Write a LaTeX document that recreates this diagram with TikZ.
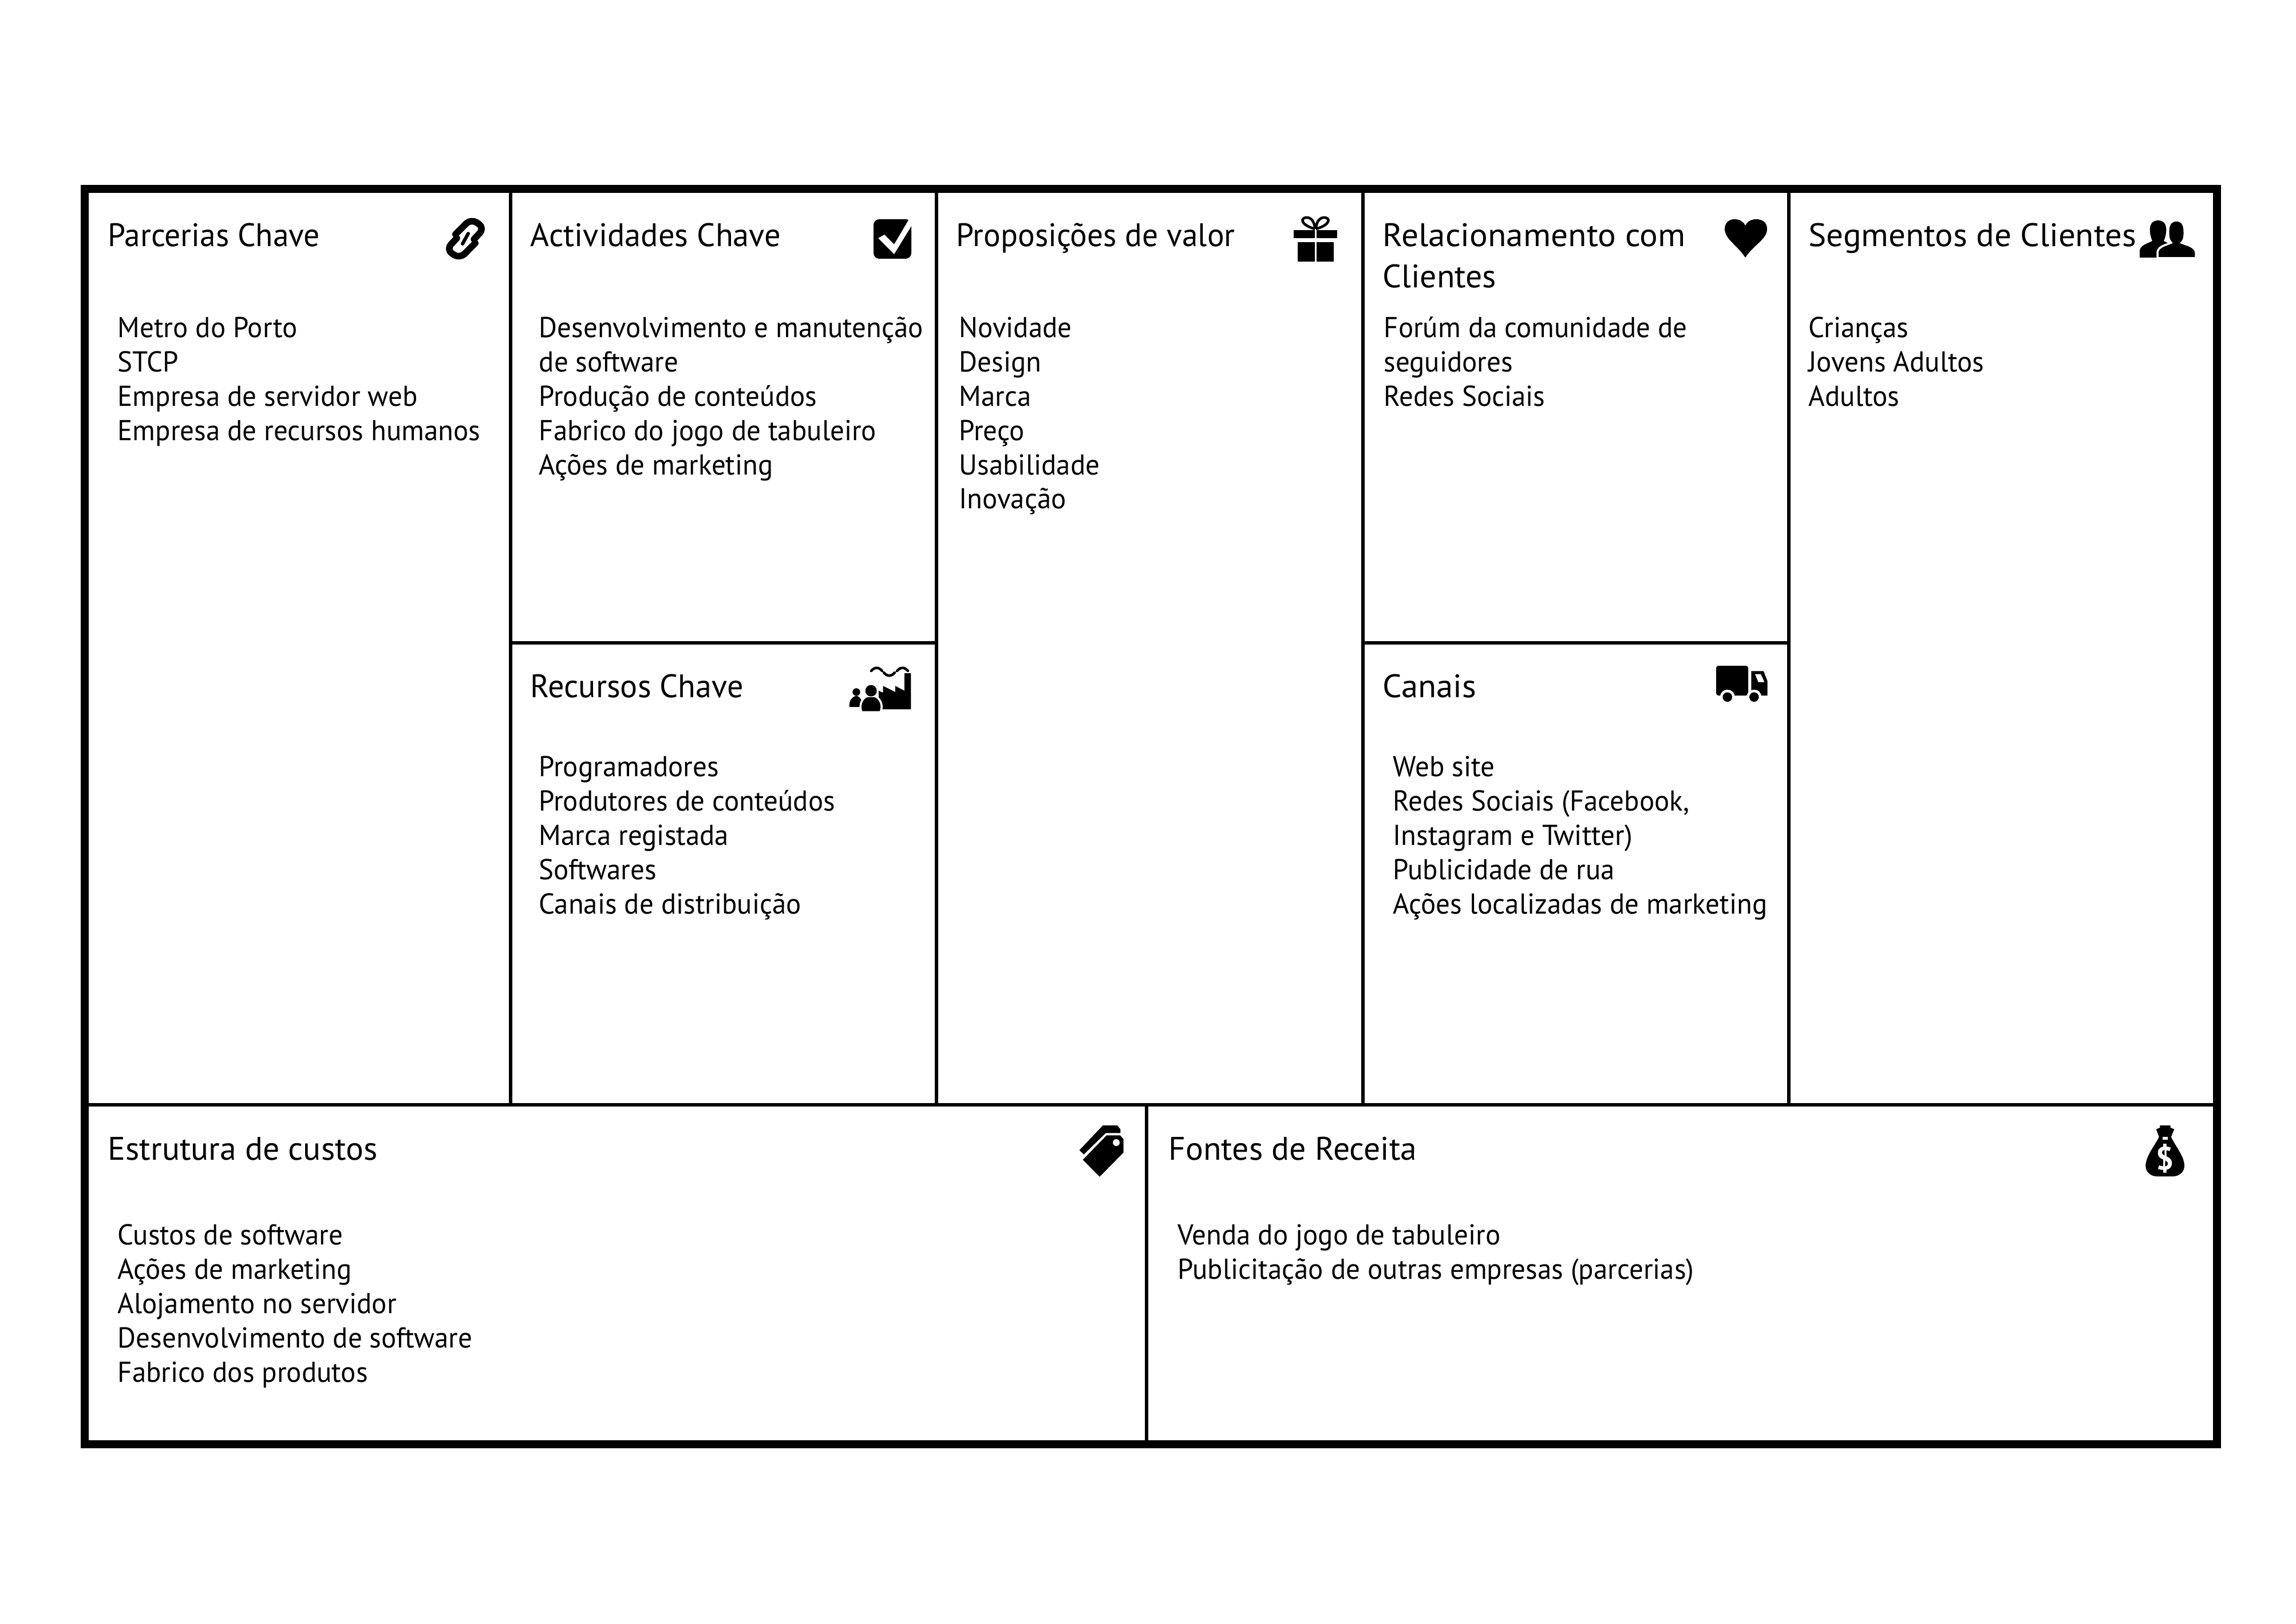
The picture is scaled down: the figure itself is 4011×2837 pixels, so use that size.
\documentclass[tikz,border=0pt]{standalone}
\usepackage{fontspec}
\setmainfont[FakeStretch=0.973]{PT Sans}
\newcommand{\fl}{\rule{0pt}{12pt}}
\newcommand{\widen}[2]{\scalebox{#1}[1]{#2}}
\tikzset{
  frame/.style={line width=0.145cm,draw=black,line join=miter},
  wall/.style={line width=0.068cm,draw=black,line cap=butt},
  titletext/.style={anchor=north west,inner sep=0pt,align=left,font=\fontsize{16.2}{20.4}\selectfont},
  bodytext/.style={anchor=north west,inner sep=0pt,align=left,font=\fontsize{14.3}{17}\selectfont},
  ink/.style={fill=black,draw=none},
  paper/.style={fill=white,draw=none},
  halo/.style={fill=black,draw=white,line width=0.035cm},
  chain/.style={draw=black,line width=0.115cm,rounded corners=0.12cm,line cap=round,line join=round},
  smoke/.style={draw=black,line width=0.045cm,line cap=round}
}
\begin{document}
\begin{tikzpicture}[x=0.01cm,y=-0.01cm]
\useasboundingbox (0,0) rectangle (4011,2837);
\fill[white] (0,0) rectangle (4011,2837);
% grid
\draw[wall] (892,330) -- (892,1930);
\draw[wall] (1636,330) -- (1636,1930);
\draw[wall] (2381,330) -- (2381,1930);
\draw[wall] (3125,330) -- (3125,1930);
\draw[wall] (892,1123) -- (1636,1123);
\draw[wall] (2381,1123) -- (3125,1123);
\draw[wall] (148,1930) -- (3873,1930);
\draw[wall] (2003,1930) -- (2003,2523);
\draw[frame] (148,330) rectangle (3873,2523);
% titles
\node[titletext] (t1) at (188,388) {\fl Parcerias Chave};
\node[titletext] (t2) at (926,388) {\fl \widen{1.02}{Actividades Chave}};
\node[titletext] (t3) at (1670,388) {\fl Proposições de valor};
\node[titletext] (t4) at (2415,388) {\fl \widen{1.07}{Relacionamento com}\\\widen{1.04}{Clientes}};
\node[titletext] (t5) at (3159,388) {\fl \widen{1.06}{Segmentos de Clientes}};
\node[titletext] (t6) at (926,1176) {\fl \widen{1.015}{Recursos Chave}};
\node[titletext] (t7) at (2415,1176) {\fl \widen{1.06}{Canais}};
\node[titletext] (t8) at (188,1984) {\fl \widen{1.04}{Estrutura de custos}};
\node[titletext] (t9) at (2041,1984) {\fl \widen{1.04}{Fontes de Receita}};
% bodies
\node[bodytext] (b1) at (205,547) {\fl Metro do Porto\\STCP\\Empresa de servidor web\\Empresa de recursos humanos};
\node[bodytext] (b2) at (941,547) {\fl Desenvolvimento e manutenção\\de software\\Produção de conteúdos\\Fabrico do jogo de tabuleiro\\Ações de marketing};
\node[bodytext] (b3) at (1675,547) {\fl Novidade\\Design\\Marca\\Preço\\Usabilidade\\Inovação};
\node[bodytext] (b4) at (2417,547) {\fl Forúm da comunidade de\\seguidores\\Redes Sociais};
\node[bodytext] (b5) at (3159,547) {\fl Crianças\\Jovens Adultos\\Adultos};
\node[bodytext] (b6) at (941,1314) {\fl Programadores\\Produtores de conteúdos\\Marca registada\\Softwares\\Canais de distribuição};
\node[bodytext] (b7) at (2433,1314) {\fl Web site\\Redes Sociais (Facebook,\\Instagram e Twitter)\\Publicidade de rua\\Ações localizadas de marketing};
\node[bodytext] (b8) at (205,2132) {\fl Custos de software\\Ações de marketing\\Alojamento no servidor\\Desenvolvimento de software\\Fabrico dos produtos};
\node[bodytext] (b9) at (2057,2132) {\fl Venda do jogo de tabuleiro\\Publicitação de outras empresas (parcerias)};
% link icon
\draw[chain] (795.8,409.2) -- (822.8,382) -- (846.5,398.1) -- (828,418);
\draw[chain] (830.2,424.8) -- (803.2,452) -- (779.5,435.9) -- (798,416);
\draw[draw=black,line width=0.06cm,line cap=round] (808,426) -- (818,408);
% check icon
\fill[ink,rounded corners=0.1cm] (1526,383) rectangle (1592,452);
\fill[paper] (1534,416) -- (1545,410) -- (1562,427) -- (1588,383) -- (1592,383) -- (1592,395) -- (1562,444) -- cycle;
% gift icon
\fill[ink] (2260,402) rectangle (2296.5,416);
\fill[ink] (2299.5,402) rectangle (2336,416);
\fill[ink] (2267,423) rectangle (2296.5,457);
\fill[ink] (2299.5,423) rectangle (2330,457);
\draw[draw=black,line width=0.045cm] (2297,400) .. controls (2270,392) and (2272,380) .. (2283,380) .. controls (2292,380) and (2297,390) .. (2297,400);
\draw[draw=black,line width=0.045cm] (2299,400) .. controls (2326,392) and (2324,380) .. (2313,380) .. controls (2304,380) and (2299,390) .. (2299,400);
% heart icon
\fill[ink] (3049,450) .. controls (3035,428) and (3013,418) .. (3013,400) .. controls (3013,388) and (3022,383) .. (3030,383) .. controls (3040,383) and (3046,388) .. (3049,394) .. controls (3052,388) and (3058,383) .. (3068,383) .. controls (3078,383) and (3087,388) .. (3087,400) .. controls (3087,418) and (3063,428) .. (3049,450) -- cycle;
% people icon
\fill[ink] (3738,450) -- (3738,437) .. controls (3740,428) and (3752,425) .. (3760,421) .. controls (3757,414) and (3755,405) .. (3756,398) .. controls (3757,388) and (3764,385) .. (3770,385) .. controls (3776,385) and (3783,388) .. (3784,398) .. controls (3785,405) and (3783,414) .. (3780,421) .. controls (3786,424) and (3790,426) .. (3795,430) -- (3795,450) -- cycle;
\filldraw[halo] (3769,451) -- (3769,440) .. controls (3771,430) and (3784,428) .. (3793,424) .. controls (3789,420) and (3787,415) .. (3788,400) .. controls (3789,389) and (3795,385) .. (3802,385) .. controls (3809,385) and (3815,389) .. (3816,400) .. controls (3817,415) and (3815,420) .. (3811,424) .. controls (3821,428) and (3833,430) .. (3836,440) -- (3836,451) -- cycle;
% factory icon
\fill[ink] (1535,1206.7) -- (1542.7,1210) -- (1542.7,1198.3) -- (1564,1209) -- (1564,1198.3) -- (1580,1206.7) -- (1580,1176) -- (1591.3,1176) -- (1591.3,1239) -- (1535,1239) -- cycle;
\draw[smoke] (1522,1172) .. controls (1528,1165) and (1535,1165) .. (1541,1172);
\draw[smoke] (1544,1175) .. controls (1550,1182) and (1557,1182) .. (1563,1175);
\draw[smoke] (1567,1172) .. controls (1573,1165) and (1580,1165) .. (1586,1172);
\fill[ink] (1484,1235) .. controls (1483,1224) and (1488,1218) .. (1494,1216) -- (1498,1216) .. controls (1503,1218) and (1507,1224) .. (1506,1235) -- cycle;
\fill[ink] (1496,1209) circle [radius=6.7];
\filldraw[halo] (1505,1244) .. controls (1500,1232) and (1506,1219) .. (1515,1216) -- (1528,1216) .. controls (1537,1219) and (1544,1232) .. (1538,1244) -- cycle;
\fill[ink] (1521.7,1206.7) circle [radius=10];
% truck icon
\fill[ink,rounded corners=0.04cm] (2998,1215) -- (2998,1163) -- (3054,1163) -- (3054,1215) -- cycle;
\fill[ink] (3059.3,1215) -- (3059.3,1172.3) -- (3080.7,1172.3) -- (3087.7,1190) -- (3087.7,1215) -- cycle;
\fill[paper] (3066,1177.7) -- (3076,1177.7) -- (3082.3,1191.7) -- (3071.7,1191.7) -- cycle;
\fill[paper] (3017.7,1217.7) circle [radius=13];
\fill[paper] (3064.3,1217.7) circle [radius=13];
\fill[ink] (3017.7,1217.7) circle [radius=8.3];
\fill[ink] (3064.3,1217.7) circle [radius=8.3];
% tag icon
\fill[ink] (1926.7,1966) -- (1951.7,1966) -- (1957.3,1972.7) -- (1957.3,1979.3) -- (1931.7,1979.3) -- (1893.3,2016.7) -- (1885.7,2009.3) -- cycle;
\fill[ink] (1933.3,1983.3) -- (1956.7,1983.3) -- (1962.7,1990) -- (1962.7,2013.3) -- (1921,2055.7) -- (1891.7,2026) -- cycle;
\fill[paper] (1950,1996) circle [radius=6];
% money bag icon
\fill[ink] (3773.3,1966) -- (3791.7,1966) -- (3791.7,1970) -- (3798.3,1972.7) -- (3792.7,1986) .. controls (3800,2002) and (3816,2020) .. (3816,2036.7) .. controls (3816,2048) and (3806,2055) .. (3796,2055) -- (3768,2055) .. controls (3758,2055) and (3748.3,2048) .. (3748.3,2036.7) .. controls (3748.3,2020) and (3764,2002) .. (3771.7,1986) -- (3766.7,1972.7) -- (3773.3,1970) -- cycle;
\fill[paper] (3777.7,1986) rectangle (3786.7,1990.7);
\node[text=white,inner sep=0pt,font=\fontsize{16}{16}\selectfont\bfseries] (bagsign) at (3782.3,2023.3) {\$};
\end{tikzpicture}
\end{document}
